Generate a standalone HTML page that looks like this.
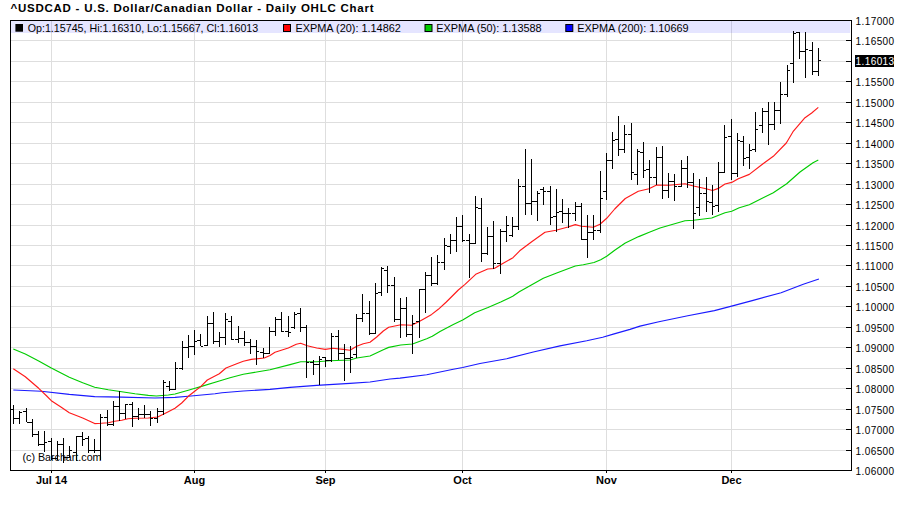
<!DOCTYPE html>
<html><head><meta charset="utf-8"><title>USDCAD Daily OHLC Chart</title>
<style>
html,body{margin:0;padding:0;background:#fff;}
body{width:900px;height:511px;position:relative;overflow:hidden;font-family:"Liberation Sans",sans-serif;}
</style></head><body>
<svg width="900" height="511" viewBox="0 0 900 511" style="position:absolute;left:0;top:0"><rect x="0" y="0" width="900" height="511" fill="#fff"/><g fill="#dedede" shape-rendering="crispEdges"><rect x="11" y="40" width="835" height="1"/><rect x="11" y="61" width="835" height="1"/><rect x="11" y="81" width="835" height="1"/><rect x="11" y="102" width="835" height="1"/><rect x="11" y="122" width="835" height="1"/><rect x="11" y="143" width="835" height="1"/><rect x="11" y="163" width="835" height="1"/><rect x="11" y="184" width="835" height="1"/><rect x="11" y="204" width="835" height="1"/><rect x="11" y="225" width="835" height="1"/><rect x="11" y="245" width="835" height="1"/><rect x="11" y="265" width="835" height="1"/><rect x="11" y="286" width="835" height="1"/><rect x="11" y="306" width="835" height="1"/><rect x="11" y="327" width="835" height="1"/><rect x="11" y="347" width="835" height="1"/><rect x="11" y="368" width="835" height="1"/><rect x="11" y="388" width="835" height="1"/><rect x="11" y="409" width="835" height="1"/><rect x="11" y="429" width="835" height="1"/><rect x="11" y="450" width="835" height="1"/><rect x="51" y="21" width="1" height="449"/><rect x="194" y="21" width="1" height="449"/><rect x="325" y="21" width="1" height="449"/><rect x="462" y="21" width="1" height="449"/><rect x="606" y="21" width="1" height="449"/><rect x="731" y="21" width="1" height="449"/></g><rect x="11" y="21" width="839" height="12" fill="#0000ff" fill-opacity="0.1" shape-rendering="crispEdges"/><polyline points="13.3,390.0 41.3,391.3 69.3,394.4 94.7,396.6 121.7,397.1 155.0,398.0 175.0,397.4 188.3,396.3 201.7,395.0 215.0,393.7 222.0,392.7 243.3,391.0 270.0,389.4 290.0,387.4 316.7,385.4 350.0,383.4 370.0,382.0 390.0,379.0 400.0,378.1 426.7,374.7 453.3,369.3 462.7,367.5 480.0,363.5 506.7,358.7 533.3,352.0 560.0,345.9 586.7,340.8 602.7,337.3 613.3,334.1 630.0,329.4 640.0,326.1 658.9,321.7 687.8,315.7 714.4,310.6 731.6,306.1 752.2,300.6 781.1,292.8 803.3,284.3 818.9,279.0" fill="none" stroke="#1a1aff" stroke-width="1.15" stroke-linejoin="round"/><polyline points="13.3,349.0 25.3,354.0 38.7,361.0 51.3,368.0 69.3,377.3 82.7,382.7 94.7,387.2 108.3,389.7 121.7,391.7 135.0,393.7 148.3,395.4 156.3,396.0 168.3,395.0 175.0,394.0 188.3,390.3 195.0,388.3 200.7,386.6 219.3,381.0 230.0,377.7 243.3,374.3 256.7,372.0 270.0,369.7 290.0,364.6 300.7,361.7 316.7,361.7 330.0,360.7 343.3,360.3 350.0,360.0 356.7,358.0 370.0,356.0 383.3,349.7 388.7,347.4 400.7,345.0 412.5,344.0 426.7,338.7 432.3,336.3 440.0,331.5 453.3,324.5 462.7,320.0 474.7,312.8 488.0,307.5 500.7,302.0 512.7,296.3 519.3,291.7 530.0,285.7 543.3,278.3 556.7,273.0 575.3,266.0 583.3,264.7 594.0,262.5 600.7,259.7 606.7,256.3 614.7,250.3 625.3,243.0 638.7,236.6 649.3,232.3 660.0,228.0 685.0,220.7 693.5,220.3 711.7,218.0 725.0,212.7 731.7,211.3 739.3,207.7 749.3,204.7 762.7,198.0 773.3,192.7 786.7,183.7 800.0,172.0 813.0,162.7 818.3,160.0" fill="none" stroke="#00cc00" stroke-width="1.15" stroke-linejoin="round"/><polyline points="13.3,368.7 25.3,376.7 38.7,388.3 46.7,396.0 51.3,400.7 61.3,407.3 69.3,412.7 82.7,418.0 94.7,423.6 101.3,423.3 108.3,422.7 114.7,421.3 121.7,420.3 128.0,418.7 135.0,418.3 148.3,418.0 157.7,417.0 168.3,411.7 175.0,408.3 181.7,403.0 188.3,396.3 195.0,391.0 200.7,386.6 207.3,380.0 219.3,373.7 226.0,368.0 236.7,363.7 243.3,361.3 251.3,359.4 264.3,358.0 270.0,355.4 275.0,352.3 288.3,348.0 296.3,344.3 300.6,343.3 307.3,345.7 316.7,348.0 325.3,349.4 332.7,348.3 343.3,349.4 350.0,350.3 356.7,346.3 363.3,343.7 370.0,342.3 376.7,337.0 383.3,331.0 388.7,327.3 401.0,324.7 411.7,325.3 419.7,321.3 431.7,314.4 438.3,309.3 446.3,302.0 458.3,290.0 465.0,284.4 475.7,274.3 487.7,269.0 494.3,268.5 501.0,264.5 513.0,257.7 519.7,250.8 531.7,241.7 545.0,232.3 556.0,230.3 568.0,227.0 575.3,224.6 581.3,226.3 593.3,227.3 600.0,224.3 606.7,218.3 614.7,209.0 625.3,198.5 638.3,191.3 649.0,188.7 656.6,185.0 669.0,185.3 685.0,183.7 693.5,186.0 705.0,188.5 712.6,190.5 718.3,188.4 725.0,184.0 731.7,182.4 738.3,178.7 749.3,174.4 762.7,164.0 773.3,156.3 786.3,143.0 793.0,131.7 805.0,117.7 811.7,113.0 818.3,107.4" fill="none" stroke="#ff1a1a" stroke-width="1.15" stroke-linejoin="round"/><g fill="#000" shape-rendering="crispEdges"><rect x="13" y="405" width="1" height="19"/><rect x="10" y="409" width="3" height="1"/><rect x="14" y="418" width="2" height="1"/><rect x="19" y="411" width="1" height="13"/><rect x="16" y="418" width="3" height="1"/><rect x="20" y="412" width="2" height="1"/><rect x="26" y="408" width="1" height="14"/><rect x="23" y="411" width="3" height="1"/><rect x="27" y="422" width="2" height="1"/><rect x="32" y="419" width="1" height="18"/><rect x="29" y="422" width="3" height="1"/><rect x="33" y="434" width="2" height="1"/><rect x="38" y="431" width="1" height="15"/><rect x="35" y="434" width="3" height="1"/><rect x="39" y="444" width="2" height="1"/><rect x="44" y="431" width="1" height="21"/><rect x="41" y="444" width="3" height="1"/><rect x="45" y="442" width="2" height="1"/><rect x="51" y="438" width="1" height="22"/><rect x="48" y="441" width="3" height="1"/><rect x="52" y="458" width="2" height="1"/><rect x="57" y="441" width="1" height="19"/><rect x="54" y="458" width="3" height="1"/><rect x="58" y="444" width="2" height="1"/><rect x="63" y="438" width="1" height="25"/><rect x="60" y="444" width="3" height="1"/><rect x="64" y="457" width="2" height="1"/><rect x="69" y="446" width="1" height="12"/><rect x="66" y="457" width="3" height="1"/><rect x="70" y="450" width="2" height="1"/><rect x="76" y="436" width="1" height="25"/><rect x="73" y="452" width="3" height="1"/><rect x="77" y="436" width="2" height="1"/><rect x="82" y="432" width="1" height="14"/><rect x="79" y="436" width="3" height="1"/><rect x="83" y="439" width="2" height="1"/><rect x="88" y="436" width="1" height="17"/><rect x="85" y="438" width="3" height="1"/><rect x="89" y="450" width="2" height="1"/><rect x="94" y="439" width="1" height="14"/><rect x="91" y="450" width="3" height="1"/><rect x="95" y="450" width="2" height="1"/><rect x="100" y="414" width="1" height="46"/><rect x="97" y="450" width="3" height="1"/><rect x="101" y="417" width="2" height="1"/><rect x="107" y="410" width="1" height="16"/><rect x="104" y="417" width="3" height="1"/><rect x="108" y="424" width="2" height="1"/><rect x="113" y="401" width="1" height="25"/><rect x="110" y="424" width="3" height="1"/><rect x="114" y="406" width="2" height="1"/><rect x="119" y="391" width="1" height="30"/><rect x="116" y="406" width="3" height="1"/><rect x="120" y="413" width="2" height="1"/><rect x="125" y="404" width="1" height="15"/><rect x="122" y="413" width="3" height="1"/><rect x="126" y="404" width="2" height="1"/><rect x="132" y="402" width="1" height="25"/><rect x="129" y="404" width="3" height="1"/><rect x="133" y="416" width="2" height="1"/><rect x="138" y="408" width="1" height="12"/><rect x="135" y="416" width="3" height="1"/><rect x="139" y="414" width="2" height="1"/><rect x="144" y="405" width="1" height="13"/><rect x="141" y="414" width="3" height="1"/><rect x="145" y="414" width="2" height="1"/><rect x="150" y="411" width="1" height="15"/><rect x="147" y="414" width="3" height="1"/><rect x="151" y="418" width="2" height="1"/><rect x="157" y="408" width="1" height="15"/><rect x="154" y="418" width="3" height="1"/><rect x="158" y="411" width="2" height="1"/><rect x="163" y="380" width="1" height="35"/><rect x="160" y="411" width="3" height="1"/><rect x="164" y="382" width="2" height="1"/><rect x="169" y="381" width="1" height="10"/><rect x="166" y="386" width="3" height="1"/><rect x="170" y="389" width="2" height="1"/><rect x="175" y="362" width="1" height="28"/><rect x="172" y="389" width="3" height="1"/><rect x="176" y="368" width="2" height="1"/><rect x="182" y="341" width="1" height="29"/><rect x="179" y="368" width="3" height="1"/><rect x="183" y="347" width="2" height="1"/><rect x="188" y="335" width="1" height="23"/><rect x="185" y="347" width="3" height="1"/><rect x="189" y="346" width="2" height="1"/><rect x="194" y="330" width="1" height="25"/><rect x="191" y="346" width="3" height="1"/><rect x="195" y="341" width="2" height="1"/><rect x="200" y="334" width="1" height="12"/><rect x="197" y="340" width="3" height="1"/><rect x="201" y="346" width="2" height="1"/><rect x="207" y="316" width="1" height="30"/><rect x="204" y="345" width="3" height="1"/><rect x="208" y="323" width="2" height="1"/><rect x="213" y="312" width="1" height="32"/><rect x="210" y="323" width="3" height="1"/><rect x="214" y="341" width="2" height="1"/><rect x="219" y="332" width="1" height="15"/><rect x="216" y="341" width="3" height="1"/><rect x="220" y="337" width="2" height="1"/><rect x="225" y="313" width="1" height="32"/><rect x="222" y="337" width="3" height="1"/><rect x="226" y="319" width="2" height="1"/><rect x="231" y="316" width="1" height="24"/><rect x="228" y="321" width="3" height="1"/><rect x="232" y="339" width="2" height="1"/><rect x="238" y="326" width="1" height="17"/><rect x="235" y="339" width="3" height="1"/><rect x="239" y="338" width="2" height="1"/><rect x="244" y="331" width="1" height="15"/><rect x="241" y="338" width="3" height="1"/><rect x="245" y="342" width="2" height="1"/><rect x="250" y="339" width="1" height="15"/><rect x="247" y="342" width="3" height="1"/><rect x="251" y="346" width="2" height="1"/><rect x="256" y="340" width="1" height="25"/><rect x="253" y="346" width="3" height="1"/><rect x="257" y="351" width="2" height="1"/><rect x="263" y="348" width="1" height="10"/><rect x="260" y="352" width="3" height="1"/><rect x="264" y="353" width="2" height="1"/><rect x="269" y="327" width="1" height="27"/><rect x="266" y="353" width="3" height="1"/><rect x="270" y="331" width="2" height="1"/><rect x="275" y="317" width="1" height="19"/><rect x="272" y="331" width="3" height="1"/><rect x="276" y="319" width="2" height="1"/><rect x="281" y="312" width="1" height="20"/><rect x="278" y="319" width="3" height="1"/><rect x="282" y="331" width="2" height="1"/><rect x="288" y="316" width="1" height="21"/><rect x="285" y="331" width="3" height="1"/><rect x="289" y="332" width="2" height="1"/><rect x="294" y="312" width="1" height="17"/><rect x="291" y="327" width="3" height="1"/><rect x="295" y="314" width="2" height="1"/><rect x="300" y="308" width="1" height="24"/><rect x="297" y="313" width="3" height="1"/><rect x="301" y="327" width="2" height="1"/><rect x="306" y="325" width="1" height="53"/><rect x="303" y="327" width="3" height="1"/><rect x="307" y="362" width="2" height="1"/><rect x="313" y="360" width="1" height="15"/><rect x="310" y="362" width="3" height="1"/><rect x="314" y="364" width="2" height="1"/><rect x="319" y="356" width="1" height="29"/><rect x="316" y="364" width="3" height="1"/><rect x="320" y="359" width="2" height="1"/><rect x="325" y="357" width="1" height="10"/><rect x="322" y="357" width="3" height="1"/><rect x="326" y="360" width="2" height="1"/><rect x="331" y="333" width="1" height="29"/><rect x="328" y="360" width="3" height="1"/><rect x="332" y="336" width="2" height="1"/><rect x="338" y="330" width="1" height="30"/><rect x="335" y="336" width="3" height="1"/><rect x="339" y="353" width="2" height="1"/><rect x="344" y="344" width="1" height="37"/><rect x="341" y="353" width="3" height="1"/><rect x="345" y="358" width="2" height="1"/><rect x="350" y="346" width="1" height="27"/><rect x="347" y="358" width="3" height="1"/><rect x="351" y="357" width="2" height="1"/><rect x="356" y="314" width="1" height="44"/><rect x="353" y="354" width="3" height="1"/><rect x="357" y="318" width="2" height="1"/><rect x="362" y="294" width="1" height="28"/><rect x="359" y="318" width="3" height="1"/><rect x="363" y="313" width="2" height="1"/><rect x="369" y="301" width="1" height="34"/><rect x="366" y="313" width="3" height="1"/><rect x="370" y="333" width="2" height="1"/><rect x="375" y="283" width="1" height="51"/><rect x="372" y="333" width="3" height="1"/><rect x="376" y="293" width="2" height="1"/><rect x="381" y="267" width="1" height="29"/><rect x="378" y="292" width="3" height="1"/><rect x="382" y="268" width="2" height="1"/><rect x="387" y="266" width="1" height="27"/><rect x="384" y="270" width="3" height="1"/><rect x="388" y="285" width="2" height="1"/><rect x="394" y="277" width="1" height="45"/><rect x="391" y="285" width="3" height="1"/><rect x="395" y="319" width="2" height="1"/><rect x="400" y="298" width="1" height="40"/><rect x="397" y="319" width="3" height="1"/><rect x="401" y="308" width="2" height="1"/><rect x="406" y="297" width="1" height="40"/><rect x="403" y="308" width="3" height="1"/><rect x="407" y="334" width="2" height="1"/><rect x="412" y="315" width="1" height="39"/><rect x="409" y="334" width="3" height="1"/><rect x="413" y="323" width="2" height="1"/><rect x="419" y="289" width="1" height="49"/><rect x="416" y="321" width="3" height="1"/><rect x="420" y="289" width="2" height="1"/><rect x="425" y="272" width="1" height="41"/><rect x="422" y="289" width="3" height="1"/><rect x="426" y="275" width="2" height="1"/><rect x="431" y="257" width="1" height="29"/><rect x="428" y="275" width="3" height="1"/><rect x="432" y="283" width="2" height="1"/><rect x="437" y="255" width="1" height="30"/><rect x="434" y="283" width="3" height="1"/><rect x="438" y="262" width="2" height="1"/><rect x="444" y="238" width="1" height="32"/><rect x="441" y="262" width="3" height="1"/><rect x="445" y="245" width="2" height="1"/><rect x="450" y="234" width="1" height="20"/><rect x="447" y="246" width="3" height="1"/><rect x="451" y="240" width="2" height="1"/><rect x="456" y="217" width="1" height="35"/><rect x="453" y="240" width="3" height="1"/><rect x="457" y="226" width="2" height="1"/><rect x="462" y="215" width="1" height="27"/><rect x="459" y="226" width="3" height="1"/><rect x="463" y="240" width="2" height="1"/><rect x="469" y="234" width="1" height="44"/><rect x="466" y="240" width="3" height="1"/><rect x="470" y="243" width="2" height="1"/><rect x="475" y="196" width="1" height="48"/><rect x="472" y="243" width="3" height="1"/><rect x="476" y="207" width="2" height="1"/><rect x="481" y="198" width="1" height="64"/><rect x="478" y="208" width="3" height="1"/><rect x="482" y="253" width="2" height="1"/><rect x="487" y="227" width="1" height="28"/><rect x="484" y="253" width="3" height="1"/><rect x="488" y="236" width="2" height="1"/><rect x="493" y="221" width="1" height="48"/><rect x="490" y="236" width="3" height="1"/><rect x="494" y="263" width="2" height="1"/><rect x="500" y="229" width="1" height="45"/><rect x="497" y="263" width="3" height="1"/><rect x="501" y="231" width="2" height="1"/><rect x="506" y="216" width="1" height="26"/><rect x="503" y="231" width="3" height="1"/><rect x="507" y="225" width="2" height="1"/><rect x="512" y="217" width="1" height="20"/><rect x="509" y="235" width="3" height="1"/><rect x="513" y="226" width="2" height="1"/><rect x="518" y="179" width="1" height="51"/><rect x="515" y="226" width="3" height="1"/><rect x="519" y="186" width="2" height="1"/><rect x="525" y="149" width="1" height="66"/><rect x="522" y="186" width="3" height="1"/><rect x="526" y="203" width="2" height="1"/><rect x="531" y="159" width="1" height="56"/><rect x="528" y="203" width="3" height="1"/><rect x="532" y="201" width="2" height="1"/><rect x="537" y="191" width="1" height="30"/><rect x="534" y="201" width="3" height="1"/><rect x="538" y="193" width="2" height="1"/><rect x="543" y="187" width="1" height="18"/><rect x="540" y="189" width="3" height="1"/><rect x="544" y="191" width="2" height="1"/><rect x="550" y="186" width="1" height="39"/><rect x="547" y="191" width="3" height="1"/><rect x="551" y="217" width="2" height="1"/><rect x="556" y="189" width="1" height="43"/><rect x="553" y="216" width="3" height="1"/><rect x="557" y="212" width="2" height="1"/><rect x="562" y="199" width="1" height="24"/><rect x="559" y="211" width="3" height="1"/><rect x="563" y="213" width="2" height="1"/><rect x="568" y="208" width="1" height="20"/><rect x="565" y="213" width="3" height="1"/><rect x="569" y="213" width="2" height="1"/><rect x="575" y="202" width="1" height="19"/><rect x="572" y="213" width="3" height="1"/><rect x="576" y="206" width="2" height="1"/><rect x="581" y="203" width="1" height="37"/><rect x="578" y="206" width="3" height="1"/><rect x="582" y="239" width="2" height="1"/><rect x="587" y="215" width="1" height="43"/><rect x="584" y="239" width="3" height="1"/><rect x="588" y="232" width="2" height="1"/><rect x="593" y="215" width="1" height="25"/><rect x="590" y="232" width="3" height="1"/><rect x="594" y="230" width="2" height="1"/><rect x="600" y="171" width="1" height="62"/><rect x="597" y="230" width="3" height="1"/><rect x="601" y="198" width="2" height="1"/><rect x="606" y="153" width="1" height="47"/><rect x="603" y="191" width="3" height="1"/><rect x="607" y="160" width="2" height="1"/><rect x="612" y="132" width="1" height="37"/><rect x="609" y="160" width="3" height="1"/><rect x="613" y="140" width="2" height="1"/><rect x="618" y="116" width="1" height="40"/><rect x="615" y="139" width="3" height="1"/><rect x="619" y="149" width="2" height="1"/><rect x="624" y="125" width="1" height="28"/><rect x="621" y="149" width="3" height="1"/><rect x="625" y="134" width="2" height="1"/><rect x="631" y="123" width="1" height="57"/><rect x="628" y="134" width="3" height="1"/><rect x="632" y="172" width="2" height="1"/><rect x="637" y="149" width="1" height="36"/><rect x="634" y="174" width="3" height="1"/><rect x="638" y="151" width="2" height="1"/><rect x="643" y="142" width="1" height="36"/><rect x="640" y="152" width="3" height="1"/><rect x="644" y="170" width="2" height="1"/><rect x="649" y="160" width="1" height="33"/><rect x="646" y="169" width="3" height="1"/><rect x="650" y="177" width="2" height="1"/><rect x="656" y="147" width="1" height="38"/><rect x="653" y="177" width="3" height="1"/><rect x="657" y="157" width="2" height="1"/><rect x="662" y="146" width="1" height="53"/><rect x="659" y="157" width="3" height="1"/><rect x="663" y="190" width="2" height="1"/><rect x="668" y="173" width="1" height="25"/><rect x="665" y="190" width="3" height="1"/><rect x="669" y="181" width="2" height="1"/><rect x="674" y="174" width="1" height="27"/><rect x="671" y="181" width="3" height="1"/><rect x="675" y="186" width="2" height="1"/><rect x="681" y="160" width="1" height="27"/><rect x="678" y="186" width="3" height="1"/><rect x="682" y="168" width="2" height="1"/><rect x="687" y="156" width="1" height="32"/><rect x="684" y="168" width="3" height="1"/><rect x="688" y="182" width="2" height="1"/><rect x="693" y="173" width="1" height="56"/><rect x="690" y="182" width="3" height="1"/><rect x="694" y="213" width="2" height="1"/><rect x="699" y="179" width="1" height="37"/><rect x="696" y="207" width="3" height="1"/><rect x="700" y="193" width="2" height="1"/><rect x="706" y="177" width="1" height="35"/><rect x="703" y="193" width="3" height="1"/><rect x="707" y="201" width="2" height="1"/><rect x="712" y="185" width="1" height="30"/><rect x="709" y="202" width="3" height="1"/><rect x="713" y="206" width="2" height="1"/><rect x="718" y="162" width="1" height="50"/><rect x="715" y="205" width="3" height="1"/><rect x="719" y="172" width="2" height="1"/><rect x="724" y="125" width="1" height="48"/><rect x="721" y="172" width="3" height="1"/><rect x="725" y="137" width="2" height="1"/><rect x="731" y="119" width="1" height="61"/><rect x="728" y="136" width="3" height="1"/><rect x="732" y="173" width="2" height="1"/><rect x="737" y="133" width="1" height="44"/><rect x="734" y="173" width="3" height="1"/><rect x="738" y="140" width="2" height="1"/><rect x="743" y="136" width="1" height="30"/><rect x="740" y="141" width="3" height="1"/><rect x="744" y="158" width="2" height="1"/><rect x="749" y="144" width="1" height="25"/><rect x="746" y="157" width="3" height="1"/><rect x="750" y="150" width="2" height="1"/><rect x="755" y="112" width="1" height="40"/><rect x="752" y="149" width="3" height="1"/><rect x="756" y="129" width="2" height="1"/><rect x="762" y="108" width="1" height="25"/><rect x="759" y="125" width="3" height="1"/><rect x="763" y="111" width="2" height="1"/><rect x="768" y="102" width="1" height="43"/><rect x="765" y="111" width="3" height="1"/><rect x="769" y="124" width="2" height="1"/><rect x="774" y="102" width="1" height="28"/><rect x="771" y="124" width="3" height="1"/><rect x="775" y="110" width="2" height="1"/><rect x="780" y="82" width="1" height="42"/><rect x="777" y="110" width="3" height="1"/><rect x="781" y="94" width="2" height="1"/><rect x="787" y="65" width="1" height="32"/><rect x="784" y="94" width="3" height="1"/><rect x="788" y="70" width="2" height="1"/><rect x="793" y="31" width="1" height="52"/><rect x="790" y="63" width="3" height="1"/><rect x="794" y="33" width="2" height="1"/><rect x="799" y="32" width="1" height="27"/><rect x="796" y="32" width="3" height="1"/><rect x="800" y="51" width="2" height="1"/><rect x="805" y="32" width="1" height="46"/><rect x="802" y="51" width="3" height="1"/><rect x="806" y="49" width="2" height="1"/><rect x="812" y="42" width="1" height="33"/><rect x="809" y="50" width="3" height="1"/><rect x="813" y="71" width="2" height="1"/><rect x="818" y="48" width="1" height="28"/><rect x="815" y="71" width="3" height="1"/><rect x="819" y="60" width="2" height="1"/><rect x="10" y="20" width="842" height="1"/><rect x="10" y="470" width="842" height="1"/><rect x="10" y="20" width="1" height="451"/><rect x="851" y="20" width="1" height="451"/><rect x="846" y="40" width="5" height="1"/><rect x="846" y="61" width="5" height="1"/><rect x="846" y="81" width="5" height="1"/><rect x="846" y="102" width="5" height="1"/><rect x="846" y="122" width="5" height="1"/><rect x="846" y="143" width="5" height="1"/><rect x="846" y="163" width="5" height="1"/><rect x="846" y="184" width="5" height="1"/><rect x="846" y="204" width="5" height="1"/><rect x="846" y="225" width="5" height="1"/><rect x="846" y="245" width="5" height="1"/><rect x="846" y="265" width="5" height="1"/><rect x="846" y="286" width="5" height="1"/><rect x="846" y="306" width="5" height="1"/><rect x="846" y="327" width="5" height="1"/><rect x="846" y="347" width="5" height="1"/><rect x="846" y="368" width="5" height="1"/><rect x="846" y="388" width="5" height="1"/><rect x="846" y="409" width="5" height="1"/><rect x="846" y="429" width="5" height="1"/><rect x="846" y="450" width="5" height="1"/><rect x="51" y="471" width="1" height="2"/><rect x="194" y="471" width="1" height="2"/><rect x="325" y="471" width="1" height="2"/><rect x="462" y="471" width="1" height="2"/><rect x="606" y="471" width="1" height="2"/><rect x="731" y="471" width="1" height="2"/></g><rect x="15.4" y="24" width="7.6" height="7.7" fill="#000"/><rect x="283.5" y="24.5" width="7" height="7" fill="#ff0000" stroke="#000" stroke-width="1"/><rect x="425.0" y="24.5" width="7" height="7" fill="#00cc00" stroke="#000" stroke-width="1"/><rect x="565.8" y="24.5" width="7" height="7" fill="#0000ff" stroke="#000" stroke-width="1"/><rect x="855" y="55" width="39" height="12" fill="#000" shape-rendering="crispEdges"/></svg>
<div style="position:absolute;white-space:pre;font-size:11.5px;font-weight:bold;color:#000;line-height:11.5px;height:11.5px;top:3.17px;letter-spacing:0.75px;left:10.5px;">^USDCAD - U.S. Dollar/Canadian Dollar - Daily OHLC Chart</div><div style="position:absolute;white-space:pre;font-size:10.7px;font-weight:normal;color:#000;line-height:10.7px;height:10.7px;top:22.84px;left:27.7px;">Op:1.15745, Hi:1.16310, Lo:1.15667, Cl:1.16013</div><div style="position:absolute;white-space:pre;font-size:10.9px;font-weight:normal;color:#000;line-height:10.9px;height:10.9px;top:22.67px;left:295.5px;">EXPMA (20): 1.14862</div><div style="position:absolute;white-space:pre;font-size:10.9px;font-weight:normal;color:#000;line-height:10.9px;height:10.9px;top:22.67px;left:436.3px;">EXPMA (50): 1.13588</div><div style="position:absolute;white-space:pre;font-size:10.9px;font-weight:normal;color:#000;line-height:10.9px;height:10.9px;top:22.67px;left:577.2px;">EXPMA (200): 1.10669</div><div style="position:absolute;white-space:pre;font-size:10.7px;font-weight:normal;color:#000;line-height:10.7px;height:10.7px;top:451.84px;left:22.5px;">(c) Barchart.com</div><div style="position:absolute;white-space:pre;font-size:10px;font-weight:normal;color:#000;line-height:10px;height:10px;top:16.54px;letter-spacing:0.4px;left:855.6px;">1.17000</div><div style="position:absolute;white-space:pre;font-size:10px;font-weight:normal;color:#000;line-height:10px;height:10px;top:36.53px;letter-spacing:0.4px;left:855.6px;">1.16500</div><div style="position:absolute;white-space:pre;font-size:10px;font-weight:normal;color:#000;line-height:10px;height:10px;top:57.53px;letter-spacing:0.4px;left:855.6px;">1.16000</div><div style="position:absolute;white-space:pre;font-size:10px;font-weight:normal;color:#000;line-height:10px;height:10px;top:77.53px;letter-spacing:0.4px;left:855.6px;">1.15500</div><div style="position:absolute;white-space:pre;font-size:10px;font-weight:normal;color:#000;line-height:10px;height:10px;top:98.53px;letter-spacing:0.4px;left:855.6px;">1.15000</div><div style="position:absolute;white-space:pre;font-size:10px;font-weight:normal;color:#000;line-height:10px;height:10px;top:118.53px;letter-spacing:0.4px;left:855.6px;">1.14500</div><div style="position:absolute;white-space:pre;font-size:10px;font-weight:normal;color:#000;line-height:10px;height:10px;top:139.53px;letter-spacing:0.4px;left:855.6px;">1.14000</div><div style="position:absolute;white-space:pre;font-size:10px;font-weight:normal;color:#000;line-height:10px;height:10px;top:159.53px;letter-spacing:0.4px;left:855.6px;">1.13500</div><div style="position:absolute;white-space:pre;font-size:10px;font-weight:normal;color:#000;line-height:10px;height:10px;top:180.53px;letter-spacing:0.4px;left:855.6px;">1.13000</div><div style="position:absolute;white-space:pre;font-size:10px;font-weight:normal;color:#000;line-height:10px;height:10px;top:200.53px;letter-spacing:0.4px;left:855.6px;">1.12500</div><div style="position:absolute;white-space:pre;font-size:10px;font-weight:normal;color:#000;line-height:10px;height:10px;top:221.53px;letter-spacing:0.4px;left:855.6px;">1.12000</div><div style="position:absolute;white-space:pre;font-size:10px;font-weight:normal;color:#000;line-height:10px;height:10px;top:241.53px;letter-spacing:0.4px;left:855.6px;">1.11500</div><div style="position:absolute;white-space:pre;font-size:10px;font-weight:normal;color:#000;line-height:10px;height:10px;top:261.54px;letter-spacing:0.4px;left:855.6px;">1.11000</div><div style="position:absolute;white-space:pre;font-size:10px;font-weight:normal;color:#000;line-height:10px;height:10px;top:282.54px;letter-spacing:0.4px;left:855.6px;">1.10500</div><div style="position:absolute;white-space:pre;font-size:10px;font-weight:normal;color:#000;line-height:10px;height:10px;top:302.54px;letter-spacing:0.4px;left:855.6px;">1.10000</div><div style="position:absolute;white-space:pre;font-size:10px;font-weight:normal;color:#000;line-height:10px;height:10px;top:323.54px;letter-spacing:0.4px;left:855.6px;">1.09500</div><div style="position:absolute;white-space:pre;font-size:10px;font-weight:normal;color:#000;line-height:10px;height:10px;top:343.54px;letter-spacing:0.4px;left:855.6px;">1.09000</div><div style="position:absolute;white-space:pre;font-size:10px;font-weight:normal;color:#000;line-height:10px;height:10px;top:364.54px;letter-spacing:0.4px;left:855.6px;">1.08500</div><div style="position:absolute;white-space:pre;font-size:10px;font-weight:normal;color:#000;line-height:10px;height:10px;top:384.54px;letter-spacing:0.4px;left:855.6px;">1.08000</div><div style="position:absolute;white-space:pre;font-size:10px;font-weight:normal;color:#000;line-height:10px;height:10px;top:405.54px;letter-spacing:0.4px;left:855.6px;">1.07500</div><div style="position:absolute;white-space:pre;font-size:10px;font-weight:normal;color:#000;line-height:10px;height:10px;top:425.54px;letter-spacing:0.4px;left:855.6px;">1.07000</div><div style="position:absolute;white-space:pre;font-size:10px;font-weight:normal;color:#000;line-height:10px;height:10px;top:446.54px;letter-spacing:0.4px;left:855.6px;">1.06500</div><div style="position:absolute;white-space:pre;font-size:10px;font-weight:normal;color:#000;line-height:10px;height:10px;top:466.54px;letter-spacing:0.4px;left:855.6px;">1.06000</div><div style="position:absolute;white-space:pre;font-size:10px;font-weight:normal;color:#fff;line-height:10px;height:10px;top:56.53px;letter-spacing:0.4px;left:855.6px;">1.16013</div><div style="position:absolute;white-space:pre;font-size:11px;font-weight:bold;color:#000;line-height:11px;height:11px;top:475.29px;left:-48.5px;width:200px;text-align:center;">Jul 14</div><div style="position:absolute;white-space:pre;font-size:11px;font-weight:bold;color:#000;line-height:11px;height:11px;top:475.29px;left:94.5px;width:200px;text-align:center;">Aug</div><div style="position:absolute;white-space:pre;font-size:11px;font-weight:bold;color:#000;line-height:11px;height:11px;top:475.29px;left:225.5px;width:200px;text-align:center;">Sep</div><div style="position:absolute;white-space:pre;font-size:11px;font-weight:bold;color:#000;line-height:11px;height:11px;top:475.29px;left:362.5px;width:200px;text-align:center;">Oct</div><div style="position:absolute;white-space:pre;font-size:11px;font-weight:bold;color:#000;line-height:11px;height:11px;top:475.29px;left:506.5px;width:200px;text-align:center;">Nov</div><div style="position:absolute;white-space:pre;font-size:11px;font-weight:bold;color:#000;line-height:11px;height:11px;top:475.29px;left:631.5px;width:200px;text-align:center;">Dec</div>
</body></html>
